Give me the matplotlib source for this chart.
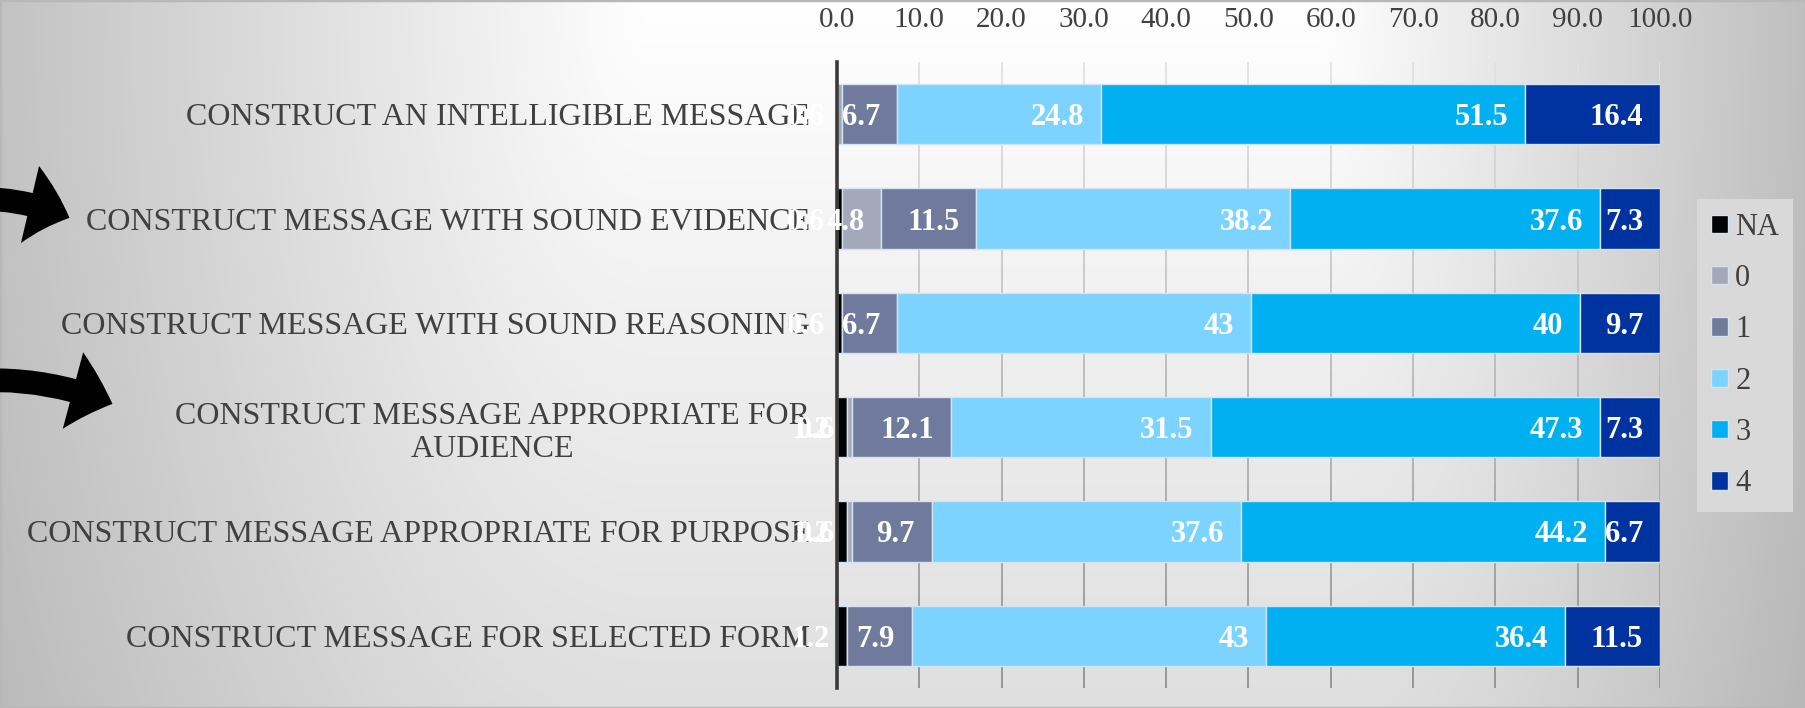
import numpy as np
import matplotlib
matplotlib.use("Agg")
import matplotlib.pyplot as plt
from matplotlib.collections import LineCollection
from matplotlib.patches import FancyArrowPatch, Rectangle

# ------------------------------------------------------------
# data (percent of responses per rubric score)
# ------------------------------------------------------------
categories = [
    "CONSTRUCT AN INTELLIGIBLE MESSAGE",
    "CONSTRUCT MESSAGE WITH SOUND EVIDENCE",
    "CONSTRUCT MESSAGE WITH SOUND REASONING",
    "CONSTRUCT MESSAGE APPROPRIATE FOR\nAUDIENCE",
    "CONSTRUCT MESSAGE APPROPRIATE FOR PURPOSE",
    "CONSTRUCT MESSAGE FOR SELECTED FORM",
]
score_names = ["NA", "0", "1", "2", "3", "4"]
na_vals = [0, 0.6, 0.6, 1.2, 1.2, 1.2]
s0_vals = [0.6, 4.8, 0, 0.6, 0.6, 0]
s1_vals = [6.7, 11.5, 6.7, 12.1, 9.7, 7.9]
s2_vals = [24.8, 38.2, 43, 31.5, 37.6, 43]
s3_vals = [51.5, 37.6, 40, 47.3, 44.2, 36.4]
s4_vals = [16.4, 7.3, 9.7, 7.3, 6.7, 11.5]
x_ticks = [0, 10, 20, 30, 40, 50, 60, 70, 80, 90, 100]

series = [na_vals, s0_vals, s1_vals, s2_vals, s3_vals, s4_vals]
colors = ["#000000", "#A3A8BA", "#707A9C", "#7DD3FF", "#00B0F0", "#0033A0"]

SERIF = "Liberation Serif"
TXT = "#404040"

W, H = 1806, 708
fig = plt.figure(figsize=(W / 100, H / 100), dpi=100)

# ------------------------------------------------------------
# background gradient (bright band at the top, greyer at the edges)
# ------------------------------------------------------------
bg = fig.add_axes([0, 0, 1, 1], zorder=-10)
gx = np.linspace(0, 1, 450)
gy = np.linspace(0, 1, 180)
XX, YY = np.meshgrid(gx, gy)
hx = np.where(XX < 0.36, (0.36 - XX) / 0.36 * 60, 0)
hx = np.where(XX > 0.73, (XX - 0.73) / 0.27 * 64, hx)
vy = YY * 32
val = np.clip(255 - np.sqrt(hx ** 2 + vy ** 2), 0, 255) / 255
bg.imshow(np.dstack([val, val, val]), extent=[0, 1, 0, 1], origin="upper",
          aspect="auto", interpolation="bilinear")
bg.set_axis_off()
fig.patches.append(Rectangle((0, 0), 1, 1, transform=fig.transFigure,
                             fill=False, edgecolor="#b8b8b8", linewidth=2.5))

# ------------------------------------------------------------
# main chart
# ------------------------------------------------------------
ax = fig.add_axes([837 / W, 1 - 688 / H, (1660 - 837) / W, (688 - 62) / H])
ax.set_facecolor("none")

y = np.arange(len(categories))
left = np.zeros(len(categories))
handles = []
for vals, col, name in zip(series, colors, score_names):
    vals = np.array(vals, dtype=float)
    bars = ax.barh(y, vals, left=left, height=0.58, color=col,
                   edgecolor="#d3e3ef", linewidth=1, label=name, zorder=3)
    handles.append(bars)
    # "inside end" data labels
    for yi, (l, v) in enumerate(zip(left, vals)):
        if v <= 0:
            continue
        ax.annotate(f"{v:g}", xy=(l + v, yi), xytext=(-12.2, 0),
                    textcoords="offset points", ha="right",
                    va="center_baseline", color="white", fontsize=22,
                    fontweight="bold", family=SERIF, zorder=5,
                    annotation_clip=False)
    left = left + vals

ax.set_xlim(0, 100)
ax.set_ylim(len(categories) - 0.5, -0.5)

# gridlines with a vertical fade
segs, cols = [], []
ny = 40
ys = np.linspace(-0.5, len(categories) - 0.5, ny + 1)
for xt in x_ticks[1:]:
    for i in range(ny):
        segs.append([(xt, ys[i]), (xt, ys[i + 1])])
        g = 0.88 - 0.34 * (i / (ny - 1))
        cols.append((g, g, g))
ax.add_collection(LineCollection(segs, colors=cols, linewidths=1.2, zorder=1))

ax.xaxis.tick_top()
ax.set_xticks(x_ticks)
ax.set_xticklabels([f"{t:.1f}" for t in x_ticks])
ax.tick_params(axis="x", length=0, pad=21, labelsize=21, labelcolor=TXT)
ax.set_yticks(y)
ax.set_yticklabels(categories)
ax.tick_params(axis="y", length=0, pad=19.5, labelsize=23, labelcolor=TXT)
for lab in ax.get_xticklabels() + ax.get_yticklabels():
    lab.set_family(SERIF)
for lab in ax.get_yticklabels():
    lab.set_multialignment("center")

for s in ["top", "right", "bottom"]:
    ax.spines[s].set_visible(False)
ax.spines["left"].set_color("#3a3a3a")
ax.spines["left"].set_linewidth(2.6)
ax.spines["left"].set_zorder(4)

# legend
leg = fig.legend(handles=handles, labels=score_names, loc="center left",
                 bbox_to_anchor=(1697 / W, 1 - 355.5 / H), borderaxespad=0,
                 frameon=True, fancybox=False, framealpha=1,
                 facecolor="#d9d9d9", edgecolor="none",
                 handlelength=0.55, handleheight=0.55, handletextpad=0.25,
                 labelspacing=0.73, borderpad=0.45,
                 prop={"family": SERIF, "size": 22})
for t in leg.get_texts():
    t.set_color(TXT)

# ------------------------------------------------------------
# the two black arrows on the left
# ------------------------------------------------------------
def fig_pt(px, py):
    return (px / W, 1 - py / H)

arrow_style = "simple,head_length=30,head_width=57,tail_width=17"
for start, end in [((-30, 199), (72, 219)), ((-30, 381), (115, 405))]:
    arr = FancyArrowPatch(fig_pt(*start), fig_pt(*end),
                          transform=fig.transFigure,
                          connectionstyle="arc3,rad=-0.12",
                          arrowstyle=arrow_style, mutation_scale=1,
                          color="black", linewidth=0)
    fig.patches.append(arr)

fig.savefig("out.png", dpi=100)
